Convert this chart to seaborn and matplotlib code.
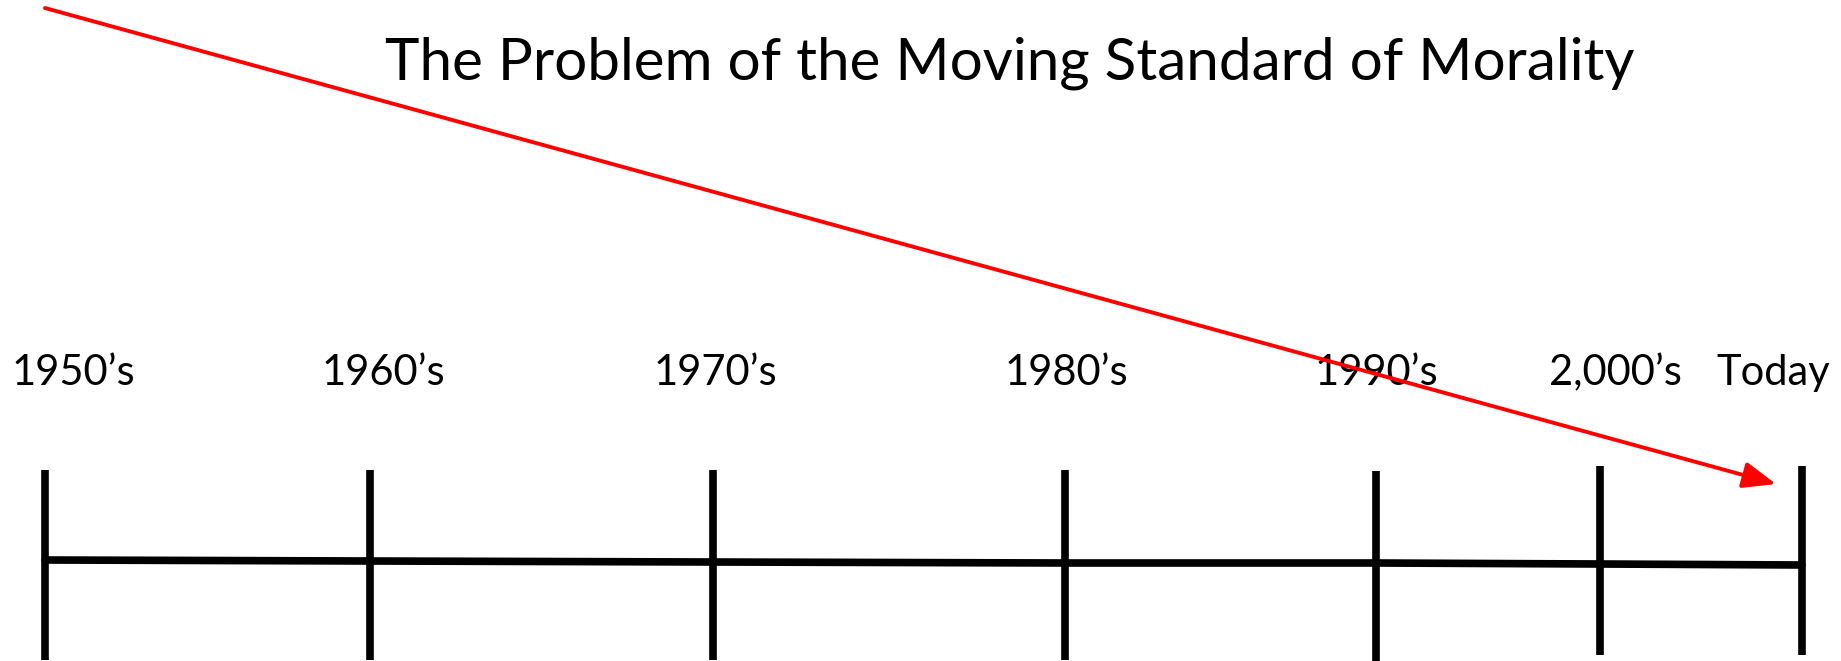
import matplotlib
matplotlib.use("Agg")
import matplotlib.pyplot as plt
import numpy as np
import pandas as pd
import seaborn as sns

# timeline stops (positions on a 0..1841 x 0..661 canvas, y grows downward)
labels = ["1950\u2019s", "1960\u2019s", "1970\u2019s", "1980\u2019s", "1990\u2019s", "2,000\u2019s", "Today"]
tick_x = [45, 370, 713, 1065, 1376, 1600, 1802]
base_y = [560, 561, 562, 563, 563, 564, 565]
tick_top = [470, 470, 470, 470, 471, 466, 466]
tick_bottom = [660, 660, 660, 660, 661, 655, 655]
label_x = [73, 383, 715, 1066, 1376, 1615, 1773]
label_y = 373

# red "moving standard" arrow
arrow_start = (45, 8)
arrow_end = (1776, 484)

title = "The Problem of the Moving Standard of Morality"

sns.set_theme(style="white")
plt.rcParams["font.family"] = ["Lato", "DejaVu Sans"]

fig = plt.figure(figsize=(18.41, 6.61), dpi=100)
ax = fig.add_axes([0, 0, 1, 1])

df = pd.DataFrame({"x": tick_x, "y": base_y})
sns.lineplot(data=df, x="x", y="y", color="black", linewidth=5.5, ax=ax,
             sort=False, estimator=None)

ax.vlines(tick_x, tick_top, tick_bottom, color="black", linewidth=5.5)

for lx, lab in zip(label_x, labels):
    ax.text(lx, label_y, lab, ha="center", va="center", fontsize=30, color="black")

ax.text(1010, 63, title, ha="center", va="center", fontsize=42, color="black")

ax.annotate(
    "",
    xy=arrow_end,
    xytext=arrow_start,
    arrowprops=dict(
        arrowstyle="-|>,head_length=1.0,head_width=0.4",
        mutation_scale=20,
        color="#ff0000",
        linewidth=2.8,
        shrinkA=0,
        shrinkB=0,
    ),
)

ax.set_xlim(0, 1841)
ax.set_ylim(661, 0)
ax.axis("off")

fig.savefig("out.png", dpi=100)
